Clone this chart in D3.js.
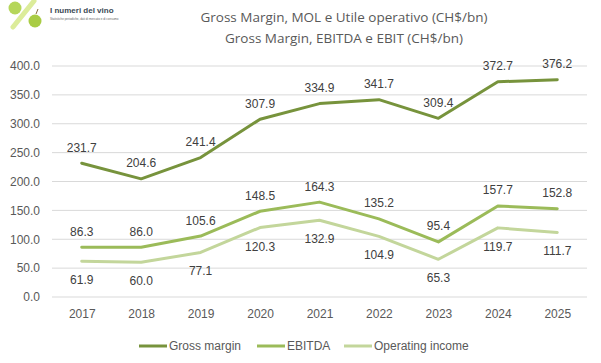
<!DOCTYPE html>
<html>
<head>
<meta charset="utf-8">
<script src="https://cdn.jsdelivr.net/npm/d3@7"></script>
<style>
  body { margin: 0; background: #fff; }
  svg { display: block; }
</style>
</head>
<body>
<div id="chart"></div>
<script>
'use strict';

// ─── Dati ────────────────────────────────────────────────────────────────
const years       = ['2017', '2018', '2019', '2020', '2021', '2022', '2023', '2024', '2025'];
const grossMargin = [231.7, 204.6, 241.4, 307.9, 334.9, 341.7, 309.4, 372.7, 376.2];
const ebitda      = [86.3, 86.0, 105.6, 148.5, 164.3, 135.2, 95.4, 157.7, 152.8];
const opIncome    = [61.9, 60.0, 77.1, 120.3, 132.9, 104.9, 65.3, 119.7, 111.7];
const yTicks      = [0, 50, 100, 150, 200, 250, 300, 350, 400];
const seriesNames = ['Gross margin', 'EBITDA', 'Operating income'];
const titleLines  = ['Gross Margin, MOL e Utile operativo (CH$/bn)', 'Gross Margin, EBITDA e EBIT (CH$/bn)'];

const W = 601, H = 363;
const margin = { top: 66, right: 14, bottom: 66, left: 52 };
const width  = W - margin.left - margin.right;
const height = H - margin.top - margin.bottom;

const colors = ['#77933c', '#9bbb59', '#c3d69b'];
const FONT = '"Liberation Sans", Arial, sans-serif';

const svg = d3.select('#chart').append('svg').attr('width', W).attr('height', H);

// ─── Logo ────────────────────────────────────────────────────────────────
const logo = svg.append('g');
logo.append('circle').attr('cx', 15).attr('cy', 8).attr('r', 6.5).attr('fill', '#b5d65a');
logo.append('line').attr('x1', 13).attr('y1', 27).attr('x2', 34).attr('y2', 1)
  .attr('stroke', '#dcec9a').attr('stroke-width', 5).attr('stroke-linecap', 'round');
logo.append('circle').attr('cx', 35).attr('cy', 21).attr('r', 6.5).attr('fill', '#a9cc44');
logo.append('line').attr('x1', 36).attr('y1', 14).attr('x2', 38).attr('y2', 9)
  .attr('stroke', '#8a6a3a').attr('stroke-width', 1);
logo.append('text').attr('x', 50).attr('y', 13).attr('font-family', FONT)
  .attr('font-weight', 'bold').attr('font-size', 8).attr('fill', '#3b4a55').text('I numeri del vino');
logo.append('text').attr('x', 50).attr('y', 20).attr('font-family', FONT)
  .attr('font-size', 3).attr('fill', '#666').text('Statistiche periodiche, dati di mercato e di consumo');

// ─── Titolo ──────────────────────────────────────────────────────────────
svg.append('g').selectAll('text').data(titleLines).join('text')
  .attr('x', 344).attr('y', (d, i) => 22 + i * 21)
  .attr('text-anchor', 'middle')
  .attr('font-family', '"Open Sans", "Noto Sans", sans-serif')
  .attr('font-size', 13.5).attr('fill', '#595959')
  .text(d => d);

const g = svg.append('g').attr('transform', `translate(${margin.left},${margin.top})`);

// ─── Scale ───────────────────────────────────────────────────────────────
const x = d3.scalePoint().domain(years).range([0, width]).padding(0.5);
const y = d3.scaleLinear().domain([0, 400]).range([height, 0]);

// Griglia
g.append('g').selectAll('line').data(yTicks).join('line')
  .attr('x1', 0).attr('x2', width)
  .attr('y1', d => y(d)).attr('y2', d => y(d))
  .attr('stroke', '#d9d9d9').attr('stroke-width', 1);

// Assi
const yAxis = g.append('g')
  .call(d3.axisLeft(y).tickValues(yTicks).tickSize(0).tickPadding(12).tickFormat(d3.format('.1f')));
yAxis.select('.domain').remove();
yAxis.selectAll('text').attr('font-family', FONT).attr('font-size', 12).attr('fill', '#595959');

const xAxis = g.append('g').attr('transform', `translate(0,${height})`)
  .call(d3.axisBottom(x).tickSize(0).tickPadding(12));
xAxis.select('.domain').remove();
xAxis.selectAll('text').attr('font-family', FONT).attr('font-size', 12).attr('fill', '#595959');

// ─── Linee ───────────────────────────────────────────────────────────────
const allSeries = [grossMargin, ebitda, opIncome];
const line = d3.line().x((d, i) => x(years[i])).y(d => y(d));

allSeries.forEach((vals, s) => {
  g.append('path').datum(vals)
    .attr('fill', 'none').attr('stroke', colors[s]).attr('stroke-width', 3)
    .attr('stroke-linejoin', 'round').attr('stroke-linecap', 'round')
    .attr('d', line);
});

// Etichette dati
const labelOffset = [-11.5, -11.5, 23];
allSeries.forEach((vals, s) => {
  g.append('g').selectAll('text').data(vals).join('text')
    .attr('x', (d, i) => x(years[i]))
    .attr('y', d => y(d) + labelOffset[s])
    .attr('text-anchor', 'middle')
    .attr('font-family', FONT).attr('font-size', 12).attr('fill', '#404040')
    .text(d => d.toFixed(1));
});

// ─── Legenda ─────────────────────────────────────────────────────────────
const legendX = [139, 257, 344];
const leg = svg.append('g').selectAll('g').data(seriesNames).join('g')
  .attr('transform', (d, i) => `translate(${legendX[i]},346)`);
leg.append('line').attr('x1', 0).attr('x2', 28).attr('y1', 0).attr('y2', 0)
  .attr('stroke', (d, i) => colors[i]).attr('stroke-width', 3);
leg.append('text').attr('x', 30).attr('y', 4)
  .attr('font-family', FONT).attr('font-size', 12).attr('fill', '#595959')
  .text(d => d);
</script>
</body>
</html>
